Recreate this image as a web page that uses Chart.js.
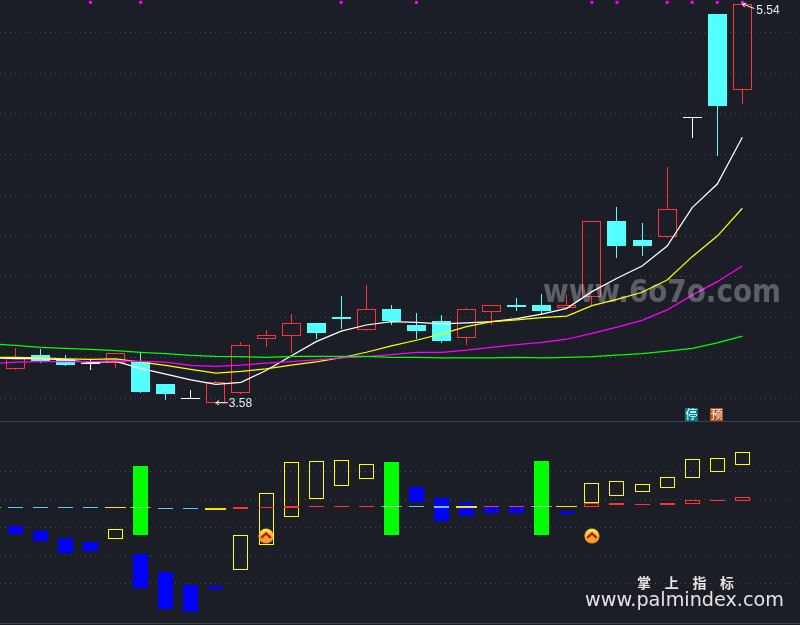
<!DOCTYPE html>
<html>
<head>
<meta charset="utf-8">
<style>html,body{margin:0;padding:0;background:#1b1e27;overflow:hidden}canvas{display:block}</style>
<script src="https://cdn.jsdelivr.net/npm/chart.js@4"></script>
</head>
<body>
<canvas id="c" width="800" height="625"></canvas>
<script>
const candleIndex = [0,1,2,3,4,5,6,7,8,9,10,11,12,13,14,15,16,17,18,19,20,21,22,23,24,25,26,27,28,29];
const opens  = [3.747,3.814,3.795,3.774,3.774,3.781,3.672,3.602,3.580,3.629,3.891,3.909,3.972,4.001,3.939,4.041,3.962,3.982,3.899,4.027,4.060,4.060,4.047,4.101,4.473,4.380,4.396,4.986,5.491,5.119];
const closes = [3.800,3.785,3.765,3.774,3.823,3.634,3.623,3.602,3.680,3.862,3.911,3.970,3.923,3.991,4.039,3.982,3.932,3.883,4.039,4.059,4.050,4.031,4.059,4.472,4.350,4.350,4.531,4.986,5.039,5.540];
const highs  = [3.849,3.844,3.814,3.790,3.824,3.829,3.672,3.642,3.687,3.878,3.937,4.016,3.972,4.105,4.159,4.060,4.021,4.011,4.046,4.059,4.095,4.114,4.109,4.472,4.542,4.463,4.739,4.986,5.491,5.540];
const lows   = [3.741,3.775,3.765,3.741,3.752,3.634,3.593,3.598,3.580,3.629,3.855,3.826,3.893,3.942,3.939,3.962,3.893,3.873,3.864,3.962,4.031,4.016,4.047,4.055,4.291,4.301,4.390,4.883,4.793,5.048];

const maIndex = [-1,0,1,2,3,4,5,6,7,8,9,10,11,12,13,14,15,16,17,18,19,20,21,22,23,24,25,26,27,28,29];
const maWhite   = [3.800,3.797,3.797,3.790,3.777,3.783,3.749,3.721,3.692,3.670,3.680,3.738,3.810,3.880,3.932,3.962,3.978,3.975,3.967,3.973,3.978,3.993,4.016,4.044,4.126,4.192,4.252,4.350,4.539,4.655,4.885];
const maYellow  = [3.803,3.803,3.801,3.796,3.793,3.796,3.779,3.764,3.744,3.725,3.734,3.746,3.765,3.781,3.801,3.828,3.859,3.887,3.918,3.954,3.978,3.987,3.998,4.006,4.057,4.088,4.123,4.183,4.298,4.399,4.536];
const maMagenta = [3.771,3.779,3.782,3.782,3.782,3.786,3.783,3.779,3.764,3.759,3.765,3.774,3.782,3.790,3.800,3.806,3.816,3.828,3.828,3.838,3.852,3.865,3.877,3.892,3.921,3.952,3.985,4.036,4.109,4.175,4.252];
const maGreen   = [3.870,3.862,3.852,3.847,3.842,3.836,3.828,3.821,3.813,3.808,3.806,3.803,3.808,3.808,3.808,3.808,3.803,3.803,3.800,3.800,3.800,3.803,3.801,3.803,3.806,3.814,3.821,3.833,3.847,3.874,3.907];

const oscIndex  = [0,1,2,3,4,5,6,7,8,9,10,11,12,13,14,16,17,18,19,20,22,23,24,25,26,27,28,29];
const oscTop    = [0.071,-0.107,-0.346,-0.489,-0.036,-0.929,-1.571,-2.036,-2.061,-0.261,1.239,2.346,2.382,2.418,2.275,1.454,1.071,0.882,0.786,0.786,0.596,1.596,1.668,1.561,1.811,2.454,2.489,2.704];
const oscBottom = [-0.204,-0.464,-0.893,-0.821,-0.382,-2.132,-2.893,-2.989,-2.179,-1.489,-0.596,0.404,1.046,1.511,1.761,0.929,0.25,0.439,0.536,0.536,0.511,0.904,1.154,1.296,1.439,1.796,2.011,2.261];
const oscKind   = ['b','b','b','b','y','b','b','b','b','y','y','y','y','y','y','b','b','b','b','b','b','y','y','y','y','y','y','y'];

const greenIndex  = [5,15,21];
const greenTop    = [2.214,2.357,2.393];
const greenBottom = [-0.25,-0.25,-0.25];

const signalIndex  = [-1,0,1,2,3,4,5,6,7,8,9,10,11,12,13,14,15,16,17,18,19,20,21,22,23,24,25,26,27,28,29];
const signalTop    = [0.75,0.75,0.75,0.75,0.75,0.75,0.75,0.714,0.714,0.714,0.75,0.75,0.775,0.786,0.786,0.786,0.786,0.786,0.786,0.786,0.786,0.786,0.786,0.786,0.882,0.893,0.857,0.893,1.0,1.0,1.096];
const signalBottom = [0.714,0.714,0.714,0.714,0.714,0.714,0.714,0.679,0.679,0.65,0.679,0.714,0.714,0.75,0.75,0.75,0.75,0.75,0.714,0.714,0.75,0.75,0.75,0.75,0.761,0.821,0.821,0.821,0.868,0.964,0.975];
const signalKind   = ['g','s','s','s','s','y','g','s','s','y','r','r','r','r','r','r','g','s','s','y','r','r','g','y','h','r','r','r','h','r','h'];

const markerIndex = [3,5,13,16,23,24,26,27,28,29];
const markerValue = 5.548;
const iconIndex = [10,23];
const iconValue = -0.286;
const badgeIndex = [27,28];
const badgeText = ['停','预'];
const priceLabels = ['3.58','5.54'];

const priceTicks = [5.4,5.2,5.0,4.8,4.6,4.4,4.2,4.0,3.8,3.6];
const oscTicks = [2,1,0,-1,-2];
const dividerTicks = [3.786,-3.393];

const RED='#fb3434', CYAN='#54ffff', WHITE='#ffffff', YELLOW='#ffff00', BLUE='#0000ff', GREEN='#00ff00', LIGHT='#5ac8fa', CLEAR='rgba(0,0,0,0)';

function bodyColor(i){ return closes[i]>opens[i]?RED:closes[i]<opens[i]?CYAN:WHITE; }
const bodies = candleIndex.map(i=>({x:i,y:[opens[i],closes[i]]}));
const upper = candleIndex.map(i=>({x:i,y:[Math.max(opens[i],closes[i]),highs[i]]}));
const lower = candleIndex.map(i=>({x:i,y:[lows[i],Math.min(opens[i],closes[i])]}));
const wickColors = candleIndex.map(i=>bodyColor(i));

function barSet(label,data,yAxisID,thick,order,bg,border,bw){
  return {type:'bar',label,data,yAxisID,xAxisID:'x',barThickness:thick,order,grouped:false,
    backgroundColor:bg,borderColor:border||CLEAR,borderWidth:bw||0,borderSkipped:false,inflateAmount:0};
}
function lineSet(label,values,color,order){
  return {type:'line',label,data:maIndex.map((x,k)=>({x,y:values[k]})),yAxisID:'yPrice',xAxisID:'x',order,
    borderColor:color,borderWidth:1.25,pointRadius:0,tension:0,fill:false};
}
function makeIcon(){
  const c=document.createElement('canvas');c.width=16;c.height=16;
  const g=c.getContext('2d');
  const gr=g.createLinearGradient(0,1,0,15);
  gr.addColorStop(0,'#ffe94a');gr.addColorStop(1,'#ff8a1c');
  g.fillStyle=gr;g.beginPath();g.arc(8,8,7.5,0,Math.PI*2);g.fill();
  g.strokeStyle='#b81818';g.lineWidth=2.4;g.lineJoin='miter';
  g.beginPath();g.moveTo(3.2,9.8);g.lineTo(8,5.4);g.lineTo(12.8,9.8);g.stroke();
  return c;
}
const icon=makeIcon();

const signalPts = signalIndex.map((x,k)=>({x,y:[signalBottom[k],signalTop[k]],k}));
const narrow = signalPts.filter(p=>signalKind[p.k]!=='y');
const wide = signalPts.filter(p=>signalKind[p.k]==='y'||signalKind[p.k]==='g');
function narrowFill(k){const t=signalKind[k];return t==='s'?LIGHT:t==='r'?RED:t==='g'?'#b4ffb4':CLEAR;}

const datasets=[
  barSet('上影线',upper,'yPrice',1,11,wickColors),
  barSet('下影线',lower,'yPrice',1,11,wickColors),
  barSet('K线',bodies,'yPrice',19,10,
    candleIndex.map(i=>closes[i]>opens[i]?CLEAR:bodyColor(i)),
    candleIndex.map(i=>bodyColor(i)),
    candleIndex.map(i=>closes[i]>opens[i]?1:0)),
  lineSet('MA白',maWhite,WHITE,4),
  lineSet('MA黄',maYellow,YELLOW,3),
  lineSet('MA紫',maMagenta,'#ff00ff',2),
  lineSet('MA绿',maGreen,GREEN,1),
  barSet('指标',oscIndex.map((x,k)=>({x,y:[oscBottom[k],oscTop[k]]})),'yOsc',15,8,
    oscKind.map(t=>t==='b'?BLUE:CLEAR),oscKind.map(t=>t==='b'?BLUE:YELLOW),oscKind.map(t=>t==='b'?0:1)),
  barSet('绿柱',greenIndex.map((x,k)=>({x,y:[greenBottom[k],greenTop[k]]})),'yOsc',15,7,GREEN),
  barSet('信号宽',wide.map(p=>({x:p.x,y:p.y})),'yOsc',21,6,
    wide.map(p=>signalKind[p.k]==='y'?'#ffdf00':GREEN)),
  barSet('信号',narrow.map(p=>({x:p.x,y:p.y})),'yOsc',15,5,
    narrow.map(p=>signalKind[p.k]==='h'?CLEAR:narrowFill(p.k)),
    narrow.map(p=>signalKind[p.k]==='h'?RED:CLEAR),
    narrow.map(p=>signalKind[p.k]==='h'?1:0)),
  {type:'scatter',label:'标记',data:markerIndex.map(x=>({x,y:markerValue})),yAxisID:'yPrice',xAxisID:'x',order:0,
    pointStyle:'rect',pointRadius:2.1,backgroundColor:'#ff00ff',borderWidth:0},
  {type:'scatter',label:'图标',data:iconIndex.map(x=>({x,y:iconValue})),yAxisID:'yOsc',xAxisID:'x',order:0,
    pointStyle:icon,pointRadius:8}
];

const snapBars={id:'snapBars',beforeDatasetsDraw(chart){
  chart.getSortedVisibleDatasetMetas().forEach(m=>{
    if(m.type!=='bar')return;
    m.data.forEach(el=>{
      el.x=Math.floor(el.x)+0.5;
      const a=Math.round(el.y),b=Math.round(el.base);
      el.y=a;el.base=(a===b)?a+1:b;
    });
  });
}};

function arrow(g,x1,y1,x2,y2){
  g.strokeStyle='#ffffff';g.lineWidth=1;
  g.beginPath();g.moveTo(x1,y1);g.lineTo(x2,y2);g.stroke();
  const a=Math.atan2(y2-y1,x2-x1);
  [a+0.6,a-0.6].forEach(t=>{g.beginPath();g.moveTo(x1,y1);g.lineTo(x1+4*Math.cos(t),y1+4*Math.sin(t));g.stroke();});
}
const overlay={id:'overlay',afterDatasetsDraw(chart){
  const g=chart.ctx,X=chart.scales.x,P=chart.scales.yPrice;
  g.save();
  g.textBaseline='middle';g.textAlign='left';
  g.font='12px "Liberation Sans"';g.fillStyle='#e6eef8';
  const lx=X.getPixelForValue(8),ly=P.getPixelForValue(lows[8]);
  arrow(g,lx,ly,lx+12,ly);
  g.fillText(priceLabels[0],lx+13,ly+0.5);
  const hx=X.getPixelForValue(29),hy=P.getPixelForValue(highs[29]);
  arrow(g,hx,hy,hx+12,hy+4.5);
  g.fillText(priceLabels[1],hx+14,hy+7);

  const cols=['#00808a','#b44c18'];
  g.textAlign='center';g.font='12px "Noto Sans CJK SC"';
  badgeIndex.forEach((i,k)=>{
    const x=Math.round(X.getPixelForValue(i));
    g.fillStyle=cols[k];g.fillRect(x-7,408,13,13);
    g.fillStyle='#ffffff';g.fillText(badgeText[k],x-0.5,414.5);
  });

  g.textAlign='left';g.textBaseline='alphabetic';
  g.fillStyle='rgba(255,255,255,0.29)';
  g.font='bold 31.5px "DejaVu Sans"';
  g.fillText('www.6o7o.com',543,302,238);

  g.fillStyle='#e4e4e4';
  g.font='bold 14px "Noto Sans CJK SC"';
  if('letterSpacing' in g) g.letterSpacing='13.7px';
  g.fillText('掌上指标',637,588);
  if('letterSpacing' in g) g.letterSpacing='0px';
  g.font='19.2px "DejaVu Sans"';
  g.fillText('www.palmindex.com',585,606);
  g.restore();
}};

const DOT='#484b53';
new Chart(document.getElementById('c'),{
  type:'bar',
  data:{datasets},
  plugins:[snapBars,overlay],
  options:{
    responsive:false,animation:false,devicePixelRatio:1,
    layout:{padding:0,autoPadding:false},
    plugins:{legend:{display:false},tooltip:{enabled:false},title:{display:false}},
    scales:{
      x:{type:'linear',display:false,offset:false,min:-0.6103,max:31.3},
      yPrice:{axis:'y',type:'linear',position:'left',min:2.4872,max:5.5597,beginAtZero:false,
        afterBuildTicks(s){s.ticks=priceTicks.map(value=>({value}));},
        ticks:{display:false},border:{display:false,dash:[1,4]},
        grid:{drawTicks:false,color:DOT,lineWidth:1}},
      yOsc:{axis:'y',type:'linear',position:'left',min:-3.4643,max:18.8571,beginAtZero:false,
        afterBuildTicks(s){s.ticks=oscTicks.concat(dividerTicks).map(value=>({value}));},
        ticks:{display:false},
        border:{display:false,dash(ctx){return dividerTicks.includes(ctx.tick.value)?[]:[1,4];}},
        grid:{drawTicks:false,lineWidth:1,color(ctx){return dividerTicks.includes(ctx.tick.value)?'#3b434d':DOT;}}}
    }
  }
});
</script>
</body>
</html>
